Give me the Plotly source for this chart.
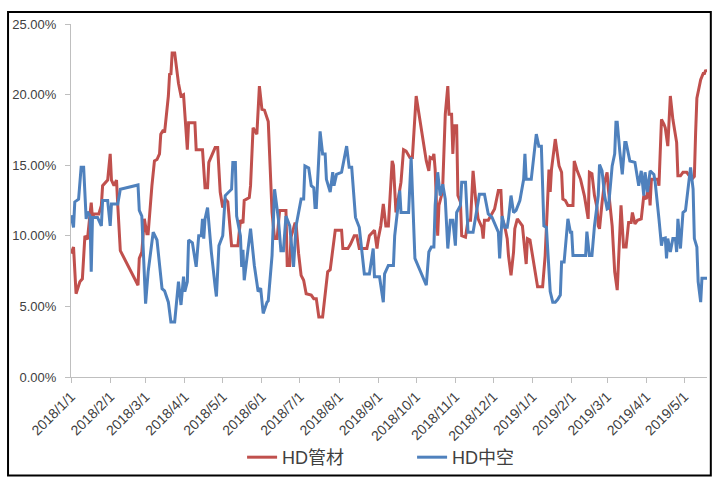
import pandas as pd
import plotly.graph_objects as go

START = "2018-01-01"

# HD管材 (pipe grade) spread, day offset from 2018-01-01 and value in %
pipe_day = [0, 2, 4, 7, 9, 11, 13, 16, 17, 18, 22, 24, 25, 28, 29, 31, 32, 34, 36, 37, 39,
            53, 54, 56, 58, 60, 61, 64, 66, 68, 70, 71, 73, 74, 77, 78, 79, 80, 82, 85, 86, 87,
            89, 92, 93, 98, 99, 104, 106, 108, 109, 114, 116, 118, 120, 122, 124, 127, 132, 134,
            136, 137, 141, 142, 144, 147, 149, 151, 153, 155, 156, 159, 161, 163, 165, 170, 171,
            173, 174, 177, 178, 180, 182, 184, 186, 190, 192, 194, 196, 199, 201, 203, 205, 207,
            209, 214, 215, 219, 221, 224, 226, 228, 234, 236, 240, 242, 243, 245, 247, 249, 251,
            254, 255, 257, 259, 261, 263, 265, 268, 270, 273, 281, 283, 284, 286, 287, 288, 290,
            291, 293, 294, 296, 298, 299, 301, 302, 303, 305, 306, 308, 309, 312, 314, 316, 318,
            320, 322, 325, 326, 327, 330, 333, 335, 338, 340, 341, 343, 345, 346, 348, 350, 351,
            353, 357, 359, 360, 361, 363, 365, 367, 369, 373, 375, 377, 378, 379, 380, 383, 386,
            388, 389, 391, 393, 397, 398, 400, 403, 406, 408, 409, 410, 412, 414, 416, 417, 418,
            420, 422, 424, 425, 428, 430, 432, 433, 435, 437, 439, 441, 443, 444, 446, 448, 451,
            453, 455, 457, 458, 459, 462, 464, 465, 467, 469, 470, 472, 473, 474, 476, 479, 480,
            482, 484, 487, 491, 493, 494, 495, 498, 500, 501, 502, 503]
pipe_val = [8.75, 9.2, 5.9, 6.75, 6.95, 10.0, 9.75, 12.35, 11.2, 11.55, 11.55, 12.15, 13.55, 13.9,
            13.95, 15.8, 13.95, 13.55, 13.95, 12.15, 8.95,
            6.5, 8.4, 8.85, 11.2, 10.15, 10.15, 13.55, 15.3, 15.4, 15.8, 17.2, 17.5, 17.3, 19.9,
            21.5, 21.4, 22.95, 22.95, 20.8, 20.35, 19.9,
            20.0, 16.1, 18.0, 18.0, 16.1, 16.1, 13.4, 13.4, 15.2, 16.25, 16.25, 13.1, 12.0, 12.6,
            12.4, 9.3, 9.3, 11.1,
            10.9, 12.5, 12.7, 13.55, 17.65, 17.2, 20.6, 18.95, 18.9, 18.25, 18.1, 11.65, 9.8, 9.8,
            11.8, 11.8, 7.9,
            7.9, 9.9, 10.85, 10.85, 8.75, 7.2, 6.85, 5.9, 5.8, 5.55, 5.55, 4.25, 4.25, 6.1, 7.45,
            7.6, 9.2,
            10.4, 10.4, 9.1, 9.1, 9.4, 10.0, 10.0, 9.1, 9.1, 10.0, 10.4, 9.1, 9.8, 10.7, 12.25,
            10.7, 10.7,
            15.3, 15.0, 11.65, 12.85, 13.8, 16.1, 16.0, 15.55, 15.55, 19.9, 15.3, 14.6, 15.55,
            15.45, 15.8, 14.7, 10.0,
            12.15, 12.85, 13.55, 18.6, 20.6, 18.6, 18.6, 15.8, 17.8, 17.8, 12.85, 12.4, 10.0, 9.9,
            11.1, 11.1, 14.6,
            12.6, 11.2, 10.6, 9.8, 11.1, 11.1, 11.65, 11.9, 13.2, 13.2, 11.2, 10.7, 9.8, 8.6, 7.2,
            8.85, 10.5,
            11.2, 10.7, 8.6, 8.0, 9.8, 9.7, 8.6, 7.45, 6.4, 6.4, 8.6, 12.6, 14.7, 13.1, 14.7, 16.85,
            14.95,
            14.5, 12.6, 12.5, 12.15, 12.15, 15.3, 14.7, 14.0, 12.85, 11.9, 11.2, 14.5, 14.4, 12.85,
            12.0, 10.7, 10.5,
            12.35, 13.8, 14.5, 13.3, 10.7, 7.45, 6.15, 7.9, 12.15, 9.2, 9.2, 10.95, 10.95, 11.65,
            10.85, 11.1, 11.2,
            12.85, 12.6, 13.55, 12.15, 14.0, 14.0, 14.0, 13.55, 18.25, 17.9, 17.65, 16.35, 18.0,
            19.9, 18.25, 16.6, 14.25,
            14.25, 14.5, 14.5, 14.0, 14.2, 17.3, 19.75, 21.05, 21.5, 21.5, 21.75, 21.6]

# HD中空 (blow-moulding grade) spread, day offset from 2018-01-01 and value in %
hollow_day = [0, 2, 3, 6, 8, 10, 12, 13, 15, 16, 17, 21, 24, 25, 29, 31, 32, 37, 39, 53, 54, 56,
              59, 61, 65, 68, 72, 74, 77, 79, 82, 85, 87, 89, 90, 92, 93, 96, 99, 101, 103, 104,
              105, 106, 108, 111, 114, 115, 117, 120, 122, 126, 127, 128, 130, 131, 134, 135, 136,
              137, 140, 142, 145, 148, 150, 152, 155, 156, 159, 161, 164, 166, 168, 170, 173, 176,
              178, 182, 184, 185, 188, 190, 192, 193, 194, 195, 197, 199, 201, 202, 205, 207, 208,
              210, 214, 218, 220, 222, 225, 228, 232, 236, 239, 240, 244, 247, 248, 251, 253, 255,
              256, 258, 260, 261, 267, 269, 272, 281, 283, 285, 287, 288, 290, 292, 294, 296, 298,
              300, 302, 304, 305, 308, 309, 312, 314, 318, 320, 323, 327, 330, 333, 335, 338, 339,
              341, 343, 345, 346, 348, 350, 352, 355, 358, 359, 360, 364, 368, 370, 372, 374, 376,
              379, 381, 383, 385, 387, 388, 390, 393, 395, 396, 397, 407, 408, 410, 412, 414, 417,
              418, 420, 422, 424, 425, 428, 430, 431, 432, 434, 436, 438, 439, 442, 446, 449, 451,
              453, 454, 456, 458, 461, 462, 465, 467, 468, 470, 471, 472, 474, 476, 478, 479, 480,
              482, 484, 486, 490, 492, 493, 495, 496, 498, 499, 503]
hollow_val = [11.45, 10.6, 12.4, 12.6, 14.85, 14.85, 11.2, 11.7, 11.4, 7.45, 11.3, 11.3, 10.7,
              12.5, 12.5, 10.7, 12.25, 12.25, 13.3, 13.6, 11.8, 11.4,
              5.2, 7.45, 10.25, 9.7, 6.25, 6.1, 5.3, 3.9, 3.9, 6.75, 5.1, 7.1, 6.05, 6.75, 9.7,
              9.5, 7.8, 10.0, 10.0, 11.2,
              9.8, 11.2, 12.0, 8.85, 6.4, 5.7, 9.3, 10.0, 12.85, 13.2, 13.3, 15.2, 15.2, 11.4,
              10.0, 7.8, 9.0,
              6.85, 8.85, 10.5, 7.9, 6.05, 6.3, 4.5, 5.3, 5.4, 8.6, 13.3, 11.2, 8.95, 8.95, 11.4,
              10.7, 7.8,
              10.7, 12.6, 12.6, 14.95, 14.8, 13.55, 13.4, 12.0, 12.0, 13.8, 17.4, 15.8, 15.8, 14.0,
              13.1, 14.5, 13.55,
              14.35, 14.5, 16.35, 14.85, 14.85, 11.3, 10.6, 7.3, 7.3, 9.1, 7.1, 7.1, 5.3, 7.3, 7.9,
              7.9, 7.9,
              10.0, 11.65, 13.2, 11.65, 11.65, 15.55, 8.4, 6.5, 8.85, 9.2, 9.2, 12.15, 14.5, 12.85,
              13.65, 12.6, 9.1,
              11.1, 11.1, 9.3, 11.65, 12.15, 13.8, 13.8, 10.25, 10.25, 11.4, 12.95, 12.95, 11.55,
              11.3, 10.85, 10.25, 8.4,
              11.4, 10.6, 10.6, 11.2, 12.85, 11.65, 11.8, 12.5, 14.0, 15.8, 14.0, 14.0, 17.2,
              16.35, 16.35, 10.7, 10.6,
              6.05, 5.3, 5.3, 5.5, 5.8, 8.15, 8.15, 11.2, 10.25, 10.25, 8.6, 8.6, 10.3, 8.6, 8.6,
              10.7, 12.85,
              15.05, 14.6, 12.85, 11.9, 11.95, 14.95, 15.8, 18.05, 18.05, 16.0, 14.35, 16.6, 16.6,
              15.3, 15.2, 13.55, 14.6,
              12.85, 14.5, 13.1, 14.6, 14.35, 13.8, 11.2, 9.3, 9.8, 9.85, 8.4, 9.8, 8.85, 9.8,
              9.8, 8.85, 11.2,
              9.1, 11.65, 11.8, 14.85, 13.3, 9.8, 9.2, 6.75, 5.3, 7.0, 7.0]

# month-start ticks on the date axis
tick_dates = pd.date_range("2018-01-01", "2019-05-01", freq="MS")
tick_labels = ["2018/1/1", "2018/2/1", "2018/3/1", "2018/4/1", "2018/5/1", "2018/6/1",
               "2018/7/1", "2018/8/1", "2018/9/1", "2018/10/1", "2018/11/1", "2018/12/1",
               "2019/1/1", "2019/2/1", "2019/3/1", "2019/4/1", "2019/5/1"]


def to_dates(days):
    return pd.Timestamp(START) + pd.to_timedelta(days, unit="D")


def to_frac(vals):
    return [v / 100 for v in vals]


FONT = "Liberation Sans, Noto Sans CJK SC, sans-serif"
RED = "#C0504D"
BLUE = "#4F81BD"

fig = go.Figure()
fig.add_trace(go.Scatter(x=to_dates(pipe_day), y=to_frac(pipe_val), mode="lines",
                         name="HD管材", line=dict(color=RED, width=3)))
fig.add_trace(go.Scatter(x=to_dates(hollow_day), y=to_frac(hollow_val), mode="lines",
                         name="HD中空", line=dict(color=BLUE, width=3)))

fig.update_layout(
    width=713, height=482,
    margin=dict(l=71, r=6, t=24, b=103),
    paper_bgcolor="white", plot_bgcolor="white",
    font=dict(family=FONT, size=14, color="#404040"),
    showlegend=True,
    legend=dict(orientation="h", x=0.269, xanchor="left", y=-0.228, yanchor="middle",
                font=dict(size=18, color="#404040"), itemwidth=30, tracegroupgap=0,
                entrywidth=125, entrywidthmode="pixels",
                bgcolor="rgba(0,0,0,0)"),
    xaxis=dict(type="date", range=["2018-01-01", "2019-05-19"], automargin=False,
               tickvals=tick_dates, ticktext=tick_labels, tickangle=-45,
               showgrid=False, zeroline=False, showline=True, linecolor="#BFBFBF",
               linewidth=1, ticks="outside", ticklen=5, tickcolor="#BFBFBF",
               tickfont=dict(size=14, color="#404040")),
    yaxis=dict(range=[0, 0.25], tickvals=[0, 0.05, 0.10, 0.15, 0.20, 0.25], automargin=False,
               tickformat=".2%", showgrid=False, zeroline=False, showline=True,
               linecolor="#BFBFBF", linewidth=1, ticks="outside", ticklen=5,
               tickcolor="#BFBFBF", ticklabelstandoff=6,
               tickfont=dict(size=13, color="#404040")),
)

# outer frame around the whole chart
fig.add_shape(type="rect", xref="paper", yref="paper",
              x0=-0.099, x1=1.006, y0=-0.279, y1=1.034,
              line=dict(color="black", width=2), fillcolor="rgba(0,0,0,0)", layer="above")

fig.write_html("out.html")
